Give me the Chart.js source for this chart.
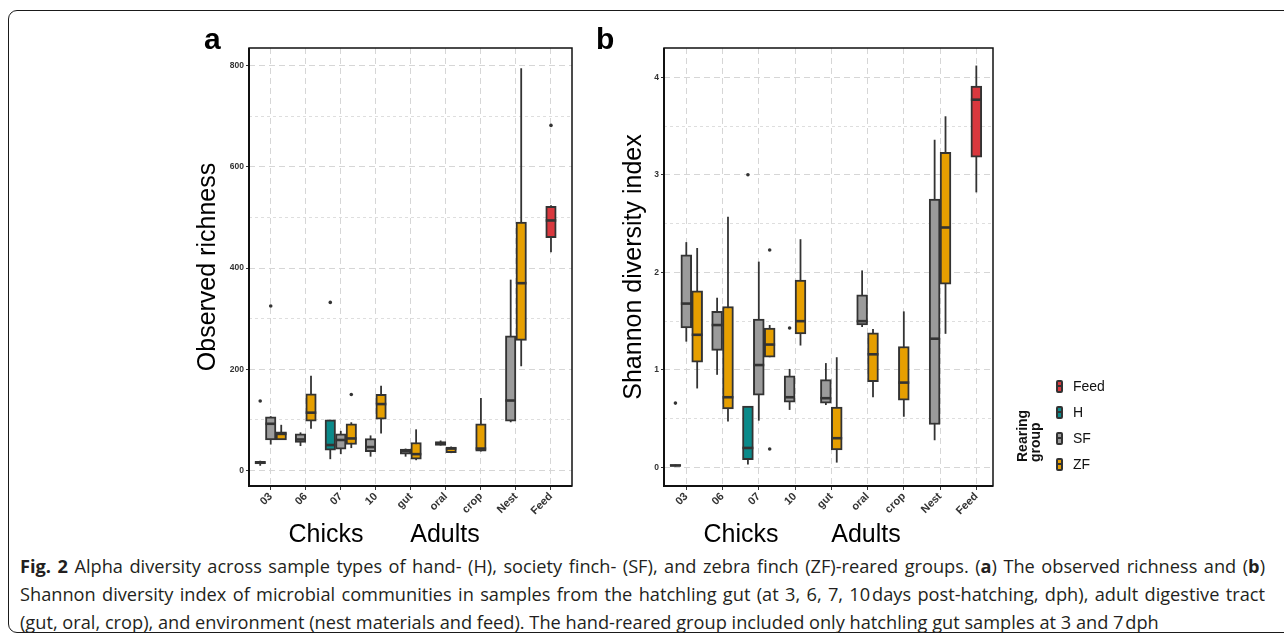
<!DOCTYPE html>
<html><head><meta charset="utf-8">
<script src="https://cdn.jsdelivr.net/npm/chart.js@4.4.1/dist/chart.umd.min.js"></script>
<style>
html,body{margin:0;padding:0;background:#fff;width:1284px;height:639px;overflow:hidden;font-family:"Liberation Sans",Arial,Helvetica,sans-serif;}
#frame{position:absolute;left:8px;top:10px;width:1300px;height:623px;border:1.5px solid #1a1a1a;border-radius:9px;box-sizing:border-box;}
canvas{position:absolute;top:0;}
.plab{position:absolute;font-weight:bold;font-size:30px;line-height:30px;color:#000;}
.grp{position:absolute;font-size:25px;line-height:30px;color:#000;transform:translateX(-50%);white-space:nowrap;}
#legtitle{position:absolute;left:1016px;top:462px;width:80px;font-weight:bold;font-size:14px;line-height:13px;color:#111;transform-origin:0 0;transform:rotate(-90deg);white-space:nowrap;}
.key{position:absolute;left:1056px;width:7px;height:13px;border:2px solid #333;border-radius:2px;box-sizing:border-box;}
.key::after{content:"";position:absolute;left:0;right:0;top:3.5px;height:2px;background:#333;}
.klab{position:absolute;left:1073px;font-size:14px;line-height:14px;color:#111;}
#cap{position:absolute;left:20px;top:552px;font-family:"Open Sans","Noto Sans",sans-serif;color:#231f20;}
.ln{white-space:nowrap;line-height:28px;height:28px;}
</style></head><body>
<div id="frame"></div>
<canvas id="ca" width="450" height="520" style="left:150px"></canvas>
<canvas id="cb" width="460" height="520" style="left:560px"></canvas>
<div class="plab" style="left:204px;top:24px">a</div>
<div class="plab" style="left:596px;top:24px">b</div>
<div class="grp" style="left:326px;top:518px">Chicks</div>
<div class="grp" style="left:445px;top:518px">Adults</div>
<div class="grp" style="left:741px;top:518px">Chicks</div>
<div class="grp" style="left:866px;top:518px">Adults</div>
<div id="legtitle">Rearing<br>group</div>
<div id="legend"></div>
<div id="cap">
<div class="ln j"><b>Fig. 2</b> Alpha diversity across sample types of hand- (H), society finch- (SF), and zebra finch (ZF)-reared groups. (<b>a</b>) The observed richness and (<b>b</b>)</div>
<div class="ln j">Shannon diversity index of microbial communities in samples from the hatchling gut (at 3, 6, 7, 10&#8202;days post-hatching, dph), adult digestive tract</div>
<div class="ln" id="last">(gut, oral, crop), and environment (nest materials and feed). The hand-reared group included only hatchling gut samples at 3 and 7&#8202;dph</div>
</div>
<script>
// ---------- data ----------
const categories = ['03','06','07','10','gut','oral','crop','Nest','Feed'];
const groupNames = ['Feed','H','SF','ZF'];

// Observed richness: [category, lower whisker, Q1, median, Q3, upper whisker]
const richFeed = [['Feed',431,460,494,522,524]];
const richH = [['03',9,13,15,18,19],['07',22,40,50,100,100]];
const richSF = [['03',51,60,92,106,107],['06',48,55,61,72,75],['07',32,42,60,72,78],['10',27,37,46,63,69],['gut',27,32,38,42,43],['oral',49,49,53,57,59],['Nest',95,97,138,266,377]];
const richZF = [['03',60,60,72,76,90],['06',82,97,114,151,187],['07',44,51,63,92,95],['10',73,101,131,150,167],['gut',20,22,32,55,81],['oral',34,35,43,46,47],['crop',37,38,43,92,143],['Nest',206,257,370,491,795]];
// outliers: [category, value]
const richFeedOut = [['Feed',682]];
const richHOut = [['03',137],['07',332]];
const richSFOut = [['03',325]];
const richZFOut = [['07',150]];

// Shannon diversity index
const shanFeed = [['Feed',2.82,3.18,3.77,3.91,4.12]];
const shanH = [['03',0.01,0.015,0.02,0.03,0.03],['07',0.03,0.08,0.20,0.63,0.63]];
const shanSF = [['03',1.29,1.43,1.68,2.18,2.31],['06',0.95,1.20,1.46,1.60,1.74],['07',0.48,0.74,1.05,1.52,2.11],['10',0.59,0.67,0.72,0.94,1.01],['gut',0.64,0.66,0.71,0.90,1.07],['oral',1.44,1.46,1.50,1.77,2.02],['Nest',0.28,0.44,1.32,2.75,3.36]];
const shanZF = [['03',0.81,1.08,1.36,1.81,2.25],['06',0.47,0.60,0.72,1.65,2.57],['07',1.13,1.13,1.26,1.43,1.46],['10',1.25,1.37,1.50,1.92,2.34],['gut',0.05,0.18,0.30,0.62,1.13],['oral',0.72,0.88,1.16,1.38,1.42],['crop',0.52,0.69,0.87,1.24,1.60],['Nest',1.37,1.88,2.46,3.23,3.60]];
const shanFeedOut = [];
const shanHOut = [['03',0.66],['07',3.00]];
const shanSFOut = [['10',1.43]];
const shanZFOut = [['07',2.23],['07',0.19]];

// tick labels
const richTicks = [0,200,400,600,800];
const shanTicks = [0,1,2,3,4];

// ---------- style ----------
const groupColors = ['#D9383E','#0A8A8A','#9B9B9B','#E69F00'];
const DODGE = 0.3;
const FONT = '"Liberation Sans", Arial, Helvetica, sans-serif';

function makePositioner(series){
  const present = categories.map(c => groupNames.filter((g,gi)=>series[gi].some(r=>r[0]===c)));
  return (gi, cat) => {
    const ci = categories.indexOf(cat);
    const list = present[ci];
    const k = list.indexOf(groupNames[gi]);
    return ci + (k-(list.length-1)/2)*DODGE;
  };
}

function makeDatasets(series, outs){
  const pos = makePositioner(series);
  const ds = [];
  series.forEach((stats, gi) => {
    if (!stats.length) return;
    ds.push({type:'bar', label:groupNames[gi], boxStats:stats,
      data: stats.map(r => ({x:pos(gi,r[0]), y:[r[2], r[4]]})),
      backgroundColor:groupColors[gi], borderColor:'#333', borderWidth:2, borderSkipped:false,
      grouped:false, categoryPercentage:1, barPercentage:1, order:2});
  });
  outs.forEach((o, gi) => {
    if (!o.length) return;
    ds.push({type:'scatter', label:groupNames[gi]+' outliers',
      data: o.map(r => ({x:pos(gi,r[0]), y:r[1]})),
      pointRadius:1.8, pointBackgroundColor:'#333', pointBorderWidth:0, order:1});
  });
  return ds;
}

const boxPlugin = {
  id:'boxWhisk',
  beforeDatasetsDraw(chart){
    const {ctx, scales:{y}} = chart;
    ctx.save();
    ctx.beginPath(); ctx.rect(chart.chartArea.left, chart.chartArea.top, chart.chartArea.right-chart.chartArea.left, chart.chartArea.bottom-chart.chartArea.top); ctx.clip();
    chart.data.datasets.forEach((ds, di) => {
      if (!ds.boxStats) return;
      const meta = chart.getDatasetMeta(di);
      ds.boxStats.forEach((r,i) => {
        const el = meta.data[i];
        ctx.strokeStyle='#333'; ctx.lineWidth=1.8;
        ctx.beginPath();
        ctx.moveTo(el.x, y.getPixelForValue(r[1]));
        ctx.lineTo(el.x, y.getPixelForValue(r[5]));
        ctx.stroke();
      });
    });
    ctx.restore();
  },
  afterDatasetsDraw(chart){
    const {ctx, scales:{y}} = chart;
    ctx.save();
    chart.data.datasets.forEach((ds, di) => {
      if (!ds.boxStats) return;
      const meta = chart.getDatasetMeta(di);
      ds.boxStats.forEach((r,i) => {
        const el = meta.data[i];
        const ym = y.getPixelForValue(r[3]);
        ctx.strokeStyle='#333'; ctx.lineWidth=2.6;
        ctx.beginPath();
        ctx.moveTo(el.x-el.width/2, ym); ctx.lineTo(el.x+el.width/2, ym);
        ctx.stroke();
      });
    });
    ctx.restore();
  },
  afterDraw(chart){
    const {ctx, chartArea:a} = chart;
    ctx.save();
    ctx.strokeStyle='#111';
    ctx.lineWidth=1.5;
    ctx.strokeRect(a.left, a.top, a.right-a.left, a.bottom-a.top);
    ctx.lineWidth=2;
    ctx.beginPath(); ctx.moveTo(a.left,a.top); ctx.lineTo(a.left,a.bottom); ctx.lineTo(a.right,a.bottom); ctx.stroke();
    ctx.restore();
  }
};

function makeChart(id, o){
  const majors = o.majors;
  const step = majors[1]-majors[0];
  const yvals = [];
  majors.forEach((v,i)=>{ yvals.push(v); if(i<majors.length-1) yvals.push(v+step/2); });
  if (o.ymax > majors[majors.length-1]+step/2) yvals.push(majors[majors.length-1]+step/2);
  const isMajor = v => majors.some(m => Math.abs(m-v)<1e-9);
  return new Chart(document.getElementById(id), {
    data:{datasets: makeDatasets(o.series, o.outs)},
    plugins:[boxPlugin],
    options:{
      responsive:false, animation:false, devicePixelRatio:1,
      layout:{padding:{left:0, top:48, right:o.rpad, bottom:0}},
      plugins:{legend:{display:false}, tooltip:{enabled:false}},
      scales:{
        x:{type:'linear', min:o.xmin, max:o.xmax, offset:false,
          afterBuildTicks: s => { s.ticks = categories.map((c,i)=>({value:i})); },
          afterFit: s => { s.height = 34; },
          ticks:{autoSkip:false, minRotation:45, maxRotation:45, padding:0, color:'#333',
            font:{family:FONT, size:11, weight:'bold'}, callback: v => categories[v]},
          grid:{color:'#d6d6d6', lineWidth:1, offset:false, drawTicks:true, tickLength:4, tickColor:'#333', tickWidth:1},
          border:{display:false, dash:[6,4]}
        },
        y:{type:'linear', min:o.ymin, max:o.ymax,
          afterBuildTicks: s => { s.ticks = yvals.map(v=>({value:v})); },
          afterFit: s => { s.width = o.yw; },
          ticks:{padding:2, color:'#333', font:{family:FONT, size:8.5, weight:'bold'},
            callback: v => isMajor(v) ? String(v) : ''},
          grid:{color: c => (c.tick && isMajor(c.tick.value)) ? '#d6d6d6' : '#dedede', lineWidth:1,
            drawTicks:true, tickLength:3, tickWidth:1,
            tickColor: c => (c.tick && isMajor(c.tick.value)) ? '#333' : 'rgba(0,0,0,0)'},
          border:{display:false, dash: c => (c.tick && isMajor(c.tick.value)) ? [6,4] : [3,3]},
          title:{display:true, text:o.ytitle, color:'#000', font:{family:FONT, size:25, weight:'normal'}, padding:{top:o.tpad, bottom:0}}
        }
      }
    }
  });
}

makeChart('ca', {series:[richFeed, richH, richSF, richZF], outs:[richFeedOut, richHOut, richSFOut, richZFOut],
  majors:richTicks, ymin:-31, ymax:835, xmin:-0.62, xmax:8.6, yw:99, rpad:28, tpad:43, ytitle:'Observed richness'});
makeChart('cb', {series:[shanFeed, shanH, shanSF, shanZF], outs:[shanFeedOut, shanHOut, shanSFOut, shanZFOut],
  majors:shanTicks, ymin:-0.19, ymax:4.30, xmin:-0.615, xmax:8.46, yw:104, rpad:27, tpad:59, ytitle:'Shannon diversity index'});

// legend
const legend = document.getElementById('legend');
const keyCenters = [386, 412, 438, 464];
groupNames.forEach((g,i) => {
  const k = document.createElement('div'); k.className='key';
  k.style.top = (keyCenters[i]-6.5)+'px'; k.style.background = groupColors[i];
  legend.appendChild(k);
  const l = document.createElement('div'); l.className='klab'; l.textContent = g;
  l.style.top = (keyCenters[i]-7)+'px';
  legend.appendChild(l);
});

// caption fit
(function(){
  const cap = document.getElementById('cap');
  const last = document.getElementById('last');
  cap.style.fontSize = '16px';
  const span = s => { const el=document.createElement('span'); el.innerHTML=s.innerHTML; el.style.whiteSpace='nowrap'; s.innerHTML=''; s.appendChild(el); return el; };
  const lastSpan = span(last);
  const w3 = lastSpan.getBoundingClientRect().width;
  cap.style.fontSize = (16*1140/w3).toFixed(2)+'px';
  document.querySelectorAll('.ln.j').forEach(ln => {
    const sp = span(ln);
    const w = sp.getBoundingClientRect().width;
    const n = (ln.textContent.match(/ /g)||[]).length;
    sp.style.wordSpacing = ((1245-w)/n).toFixed(3)+'px';
  });
})();
</script>
</body></html>
